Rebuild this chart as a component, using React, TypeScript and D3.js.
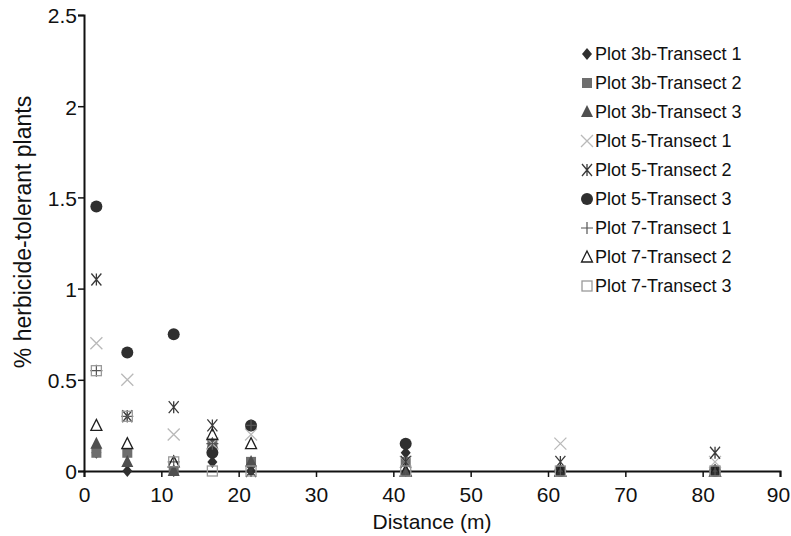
import React, { useEffect, useRef } from "react";
import * as d3 from "d3";

const distances = [1.6, 5.6, 11.6, 16.6, 21.6, 41.6, 61.6, 81.6];
const seriesNames = [
  "Plot 3b-Transect 1",
  "Plot 3b-Transect 2",
  "Plot 3b-Transect 3",
  "Plot 5-Transect 1",
  "Plot 5-Transect 2",
  "Plot 5-Transect 3",
  "Plot 7-Transect 1",
  "Plot 7-Transect 2",
  "Plot 7-Transect 3",
];
const p3bT1 = [0.1, 0, 0, 0.05, 0, 0.1, 0, 0];
const p3bT2 = [0.1, 0.1, 0, 0.15, 0.05, 0.05, 0, 0];
const p3bT3 = [0.15, 0.05, 0, 0.15, 0.05, 0, 0, 0];
const p5T1 = [0.7, 0.5, 0.2, 0.15, 0.2, 0.05, 0.15, 0.05];
const p5T2 = [1.05, 0.3, 0.35, 0.25, 0, 0.05, 0.05, 0.1];
const p5T3 = [1.45, 0.65, 0.75, 0.1, 0.25, 0.15, 0, 0];
const p7T1 = [0.55, 0.3, 0.05, 0.15, 0.25, 0, 0, 0];
const p7T2 = [0.25, 0.15, 0.05, 0.2, 0.15, 0, 0, 0];
const p7T3 = [0.55, 0.3, 0.05, 0, 0, 0, 0, 0];
const seriesValues = [p3bT1, p3bT2, p3bT3, p5T1, p5T2, p5T3, p7T1, p7T2, p7T3];
const xTicks = [0, 10, 20, 30, 40, 50, 60, 70, 80, 90];
const yTicks = [0, 0.5, 1, 1.5, 2, 2.5];

type Mk = "diamond" | "square" | "triangle" | "x" | "asterisk" | "circle" | "plus" | "otriangle" | "osquare";
const markers: Mk[] = ["diamond", "square", "triangle", "x", "asterisk", "circle", "plus", "otriangle", "osquare"];

const FONT = "'Liberation Sans', Arial, Helvetica, sans-serif";

function drawMarker(g: d3.Selection<SVGGElement, unknown, null, undefined>, m: Mk, x: number, y: number) {
  const t = `translate(${x},${y})`;
  if (m === "diamond") {
    g.append("path").attr("transform", t).attr("d", "M0,-6L5,0L0,6L-5,0Z").attr("fill", "#2f2f2f");
  } else if (m === "square") {
    g.append("rect").attr("x", x - 5).attr("y", y - 5).attr("width", 10).attr("height", 10).attr("fill", "#6e6e6e");
  } else if (m === "triangle") {
    g.append("path").attr("transform", t).attr("d", "M0,-7L6,5L-6,5Z").attr("fill", "#4f4f4f");
  } else if (m === "x") {
    g.append("path").attr("transform", t).attr("d", "M-6,-6L6,6M-6,6L6,-6").attr("stroke", "#b9b9b9").attr("stroke-width", 1.3).attr("fill", "none");
  } else if (m === "asterisk") {
    g.append("path").attr("transform", t).attr("d", "M-5,-6L5,6M-5,6L5,-6M0,-6V6").attr("stroke", "#3a3a3a").attr("stroke-width", 1.3).attr("fill", "none");
  } else if (m === "circle") {
    g.append("circle").attr("cx", x).attr("cy", y).attr("r", 6).attr("fill", "#2f2f2f");
  } else if (m === "plus") {
    g.append("path").attr("transform", t).attr("d", "M-6,0H6M0,-6V6").attr("stroke", "#555").attr("stroke-width", 1.2).attr("fill", "none");
  } else if (m === "otriangle") {
    g.append("path").attr("transform", t).attr("d", "M0,-6L5.5,5L-5.5,5Z").attr("stroke", "#1f1f1f").attr("stroke-width", 1.3).attr("fill", "none");
  } else {
    g.append("rect").attr("x", x - 5).attr("y", y - 5).attr("width", 10).attr("height", 10).attr("stroke", "#9a9a9a").attr("stroke-width", 1.3).attr("fill", "none");
  }
}

const ScatterChart: React.FC = () => {
  const svgRef = useRef<SVGSVGElement>(null);

  useEffect(() => {
    const svg = d3.select(svgRef.current);
    svg.selectAll("*").remove();

    const x = d3.scaleLinear().domain([0, 90]).range([84, 780]);
    const y = d3.scaleLinear().domain([0, 2.5]).range([471, 15]);

    const axes = svg.append("g");
    const xAxis = axes.append("g").attr("transform", "translate(0,471)")
      .call(d3.axisBottom(x).tickValues(xTicks).tickSize(6).tickFormat(d3.format("d")));
    const yAxis = axes.append("g").attr("transform", "translate(84,0)")
      .call(d3.axisLeft(y).tickValues(yTicks).tickSize(6).tickFormat((d) => String(d)));
    [xAxis, yAxis].forEach((a) => {
      a.select(".domain").attr("stroke", "#111").attr("stroke-width", 2);
      a.selectAll(".tick line").attr("stroke", "#111").attr("stroke-width", 1.5);
      a.selectAll(".tick text").attr("fill", "#111").style("font-family", FONT).style("font-size", "21px");
    });
    xAxis.selectAll(".tick text").attr("dy", "0").attr("y", 31);
    // keep the last label inside the frame
    xAxis.selectAll<SVGTextElement, number>(".tick text").filter((d) => d === 90).attr("x", -2);
    yAxis.selectAll(".tick text").attr("x", -7).attr("dy", "0.38em");

    svg.append("text").attr("x", 432).attr("y", 529).attr("text-anchor", "middle")
      .style("font-family", FONT).style("font-size", "21px").attr("fill", "#111").text("Distance (m)");
    svg.append("text").attr("transform", "translate(31,232) rotate(-90)").attr("text-anchor", "middle")
      .style("font-family", FONT).style("font-size", "23px").attr("fill", "#111").text("% herbicide-tolerant plants");

    const pts = svg.append("g");
    seriesValues.forEach((vals, si) => {
      vals.forEach((v, i) => drawMarker(pts, markers[si], x(distances[i]), y(v)));
    });

    const legend = svg.append("g");
    seriesNames.forEach((name, i) => {
      const ly = 54 + i * 29;
      drawMarker(legend, markers[i], 587, ly);
      legend.append("text").attr("x", 595).attr("y", ly).attr("dy", "0.36em")
        .style("font-family", FONT).style("font-size", "18px").attr("fill", "#111").text(name);
    });
  }, []);

  return <svg ref={svgRef} width={791} height={536} style={{ display: "block" }} />;
};

export default function App() {
  return (
    <div style={{ position: "absolute", left: 0, top: 0, background: "#fff" }}>
      <ScatterChart />
    </div>
  );
}
